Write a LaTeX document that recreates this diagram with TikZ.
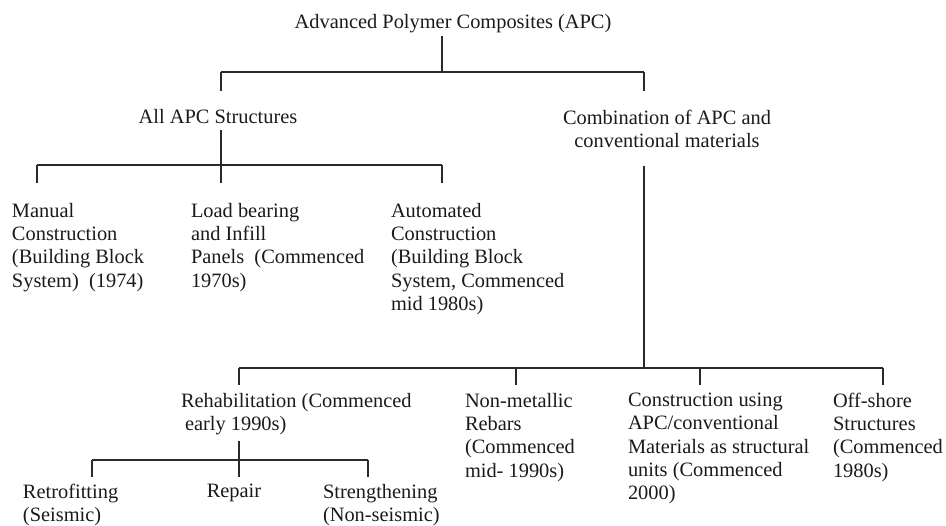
\documentclass[tikz,border=0pt]{standalone}
\usepackage{fontspec}
\setmainfont{Liberation Serif}
\usetikzlibrary{calc}
\definecolor{Ink}{HTML}{1A1A1A}
\definecolor{Wire}{HTML}{2A2A2A}

\begin{document}
\begin{tikzpicture}[
  x=1pt,y=-1pt,
  txt/.style={inner sep=0pt,outer sep=0pt,font=\fontsize{20.4}{23.3}\selectfont,text=Ink},
  leaf/.style={txt,anchor=north west,align=left},
  tree/.style={line width=1.3pt,draw=Wire}
]
\useasboundingbox (0,0) rectangle (946,526);

\node[txt,anchor=base] (apc) at (453,29) {Advanced Polymer Composites (APC)};
\node[txt,anchor=base] (all) at (218,124) {All APC Structures};
\node[txt,anchor=north,align=center] (comb) at (667,110) {Combination of APC and\\conventional materials};
\node[leaf] (manual) at (12,203) {Manual\\Construction\\(Building Block\\System)\ \ (1974)};
\node[leaf] (load) at (191,203) {Load bearing\\and Infill\\Panels\ \ (Commenced\\1970s)};
\node[leaf] (auto) at (391,203) {Automated\\Construction\\(Building Block\\System, Commenced\\mid 1980s)};
\node[leaf] (rehab) at (181,393) {Rehabilitation (Commenced\\\hspace*{4pt}early 1990s)};
\node[leaf] (nonmet) at (465,393) {Non-metallic\\Rebars\\(Commenced\\mid- 1990s)};
\node[leaf] (constr) at (628,393) {Construction using\\APC/conventional\\Materials as structural\\units (Commenced\\2000)};
\node[leaf] (offshore) at (833,393) {Off-shore\\Structures\\(Commenced\\1980s)};
\node[leaf] (retro) at (23,484) {Retrofitting\\(Seismic)};
\node[txt,anchor=base] (repair) at (234,498) {Repair};
\node[leaf] (strength) at (323,484) {Strengthening\\(Non-seismic)};

\coordinate (b0) at (442,72); \coordinate (b0l) at (221,72); \coordinate (b0r) at (644,72);
\coordinate (b1) at (221,165); \coordinate (b1l) at (37,165); \coordinate (b1r) at (442,165);
\coordinate (b2) at (644,368); \coordinate (b2l) at (239,368); \coordinate (b2r) at (883,368);
\coordinate (b2a) at (516,368); \coordinate (b2b) at (700,368);
\coordinate (b3) at (239,460); \coordinate (b3l) at (92,460); \coordinate (b3r) at (368,460);

\draw[tree,shorten <=2.5pt] (apc.south -| b0) -- (b0);
\draw[tree] (b0l) -- (b0r);
\draw[tree,shorten >=19pt] (b0l) -- (b0l |- all.north);
\draw[tree,shorten >=19pt] (b0r) -- (b0r |- comb.north);

\draw[tree,shorten <=6pt,shorten >=20pt] (all.south -| b1) -- (b1 |- load.north);
\draw[tree] (b1l) -- (b1r);
\draw[tree,shorten >=20pt] (b1l) -- (b1l |- manual.north);
\draw[tree,shorten >=20pt] (b1r) -- (b1r |- auto.north);

\draw[tree,shorten <=18pt] (comb.south -| b2) -- (b2);
\draw[tree] (b2l) -- (b2r);
\draw[tree,shorten >=8pt] (b2l) -- (b2l |- rehab.north);
\draw[tree,shorten >=8pt] (b2a) -- (b2a |- nonmet.north);
\draw[tree,shorten >=8pt] (b2b) -- (b2b |- constr.north);
\draw[tree,shorten >=8pt] (b2r) -- (b2r |- offshore.north);

\draw[tree,shorten <=6.5pt,shorten >=7pt] (rehab.south -| b3) -- (b3 |- repair.north);
\draw[tree] (b3l) -- (b3r);
\draw[tree,shorten >=7pt] (b3l) -- (b3l |- retro.north);
\draw[tree,shorten >=7pt] (b3r) -- (b3r |- strength.north);
\end{tikzpicture}
\end{document}
